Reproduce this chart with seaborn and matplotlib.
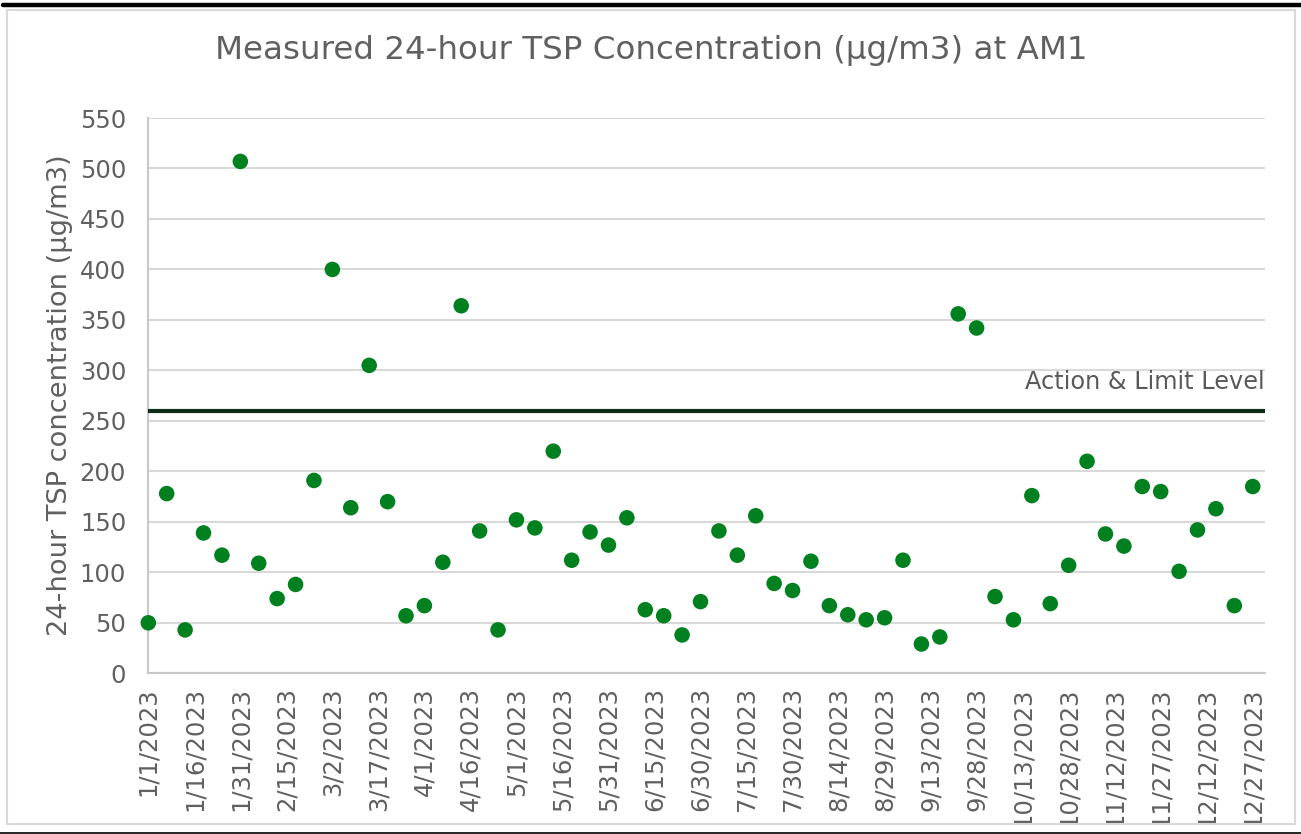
import matplotlib
matplotlib.use("Agg")
import matplotlib.pyplot as plt
import seaborn as sns
import pandas as pd
from matplotlib.patches import Rectangle
from matplotlib.lines import Line2D
from matplotlib.transforms import Bbox, TransformedBbox

# ---- data ----
dates = ["1/1/2023", "1/7/2023", "1/13/2023", "1/19/2023", "1/25/2023", "1/31/2023",
         "2/6/2023", "2/12/2023", "2/18/2023", "2/24/2023", "3/2/2023", "3/8/2023",
         "3/14/2023", "3/20/2023", "3/26/2023", "4/1/2023", "4/7/2023", "4/13/2023",
         "4/19/2023", "4/25/2023", "5/1/2023", "5/7/2023", "5/13/2023", "5/19/2023",
         "5/25/2023", "5/31/2023", "6/6/2023", "6/12/2023", "6/18/2023", "6/24/2023",
         "6/30/2023", "7/6/2023", "7/12/2023", "7/18/2023", "7/24/2023", "7/30/2023",
         "8/5/2023", "8/11/2023", "8/17/2023", "8/23/2023", "8/29/2023", "9/4/2023",
         "9/10/2023", "9/16/2023", "9/22/2023", "9/28/2023", "10/4/2023", "10/10/2023",
         "10/16/2023", "10/22/2023", "10/28/2023", "11/3/2023", "11/9/2023", "11/15/2023",
         "11/21/2023", "11/27/2023", "12/3/2023", "12/9/2023", "12/15/2023", "12/21/2023",
         "12/27/2023"]
tsp = [50, 178, 43, 139, 117, 507,
       109, 74, 88, 191, 400, 164,
       305, 170, 57, 67, 110, 364,
       141, 43, 152, 144, 220, 112,
       140, 127, 154, 63, 57, 38,
       71, 141, 117, 156, 89, 82,
       111, 67, 58, 53, 55, 112,
       29, 36, 356, 342, 76, 53,
       176, 69, 107, 210, 138, 126,
       185, 180, 101, 142, 163, 67,
       185]
tick_labels = ["1/1/2023", "1/16/2023", "1/31/2023", "2/15/2023", "3/2/2023", "3/17/2023",
               "4/1/2023", "4/16/2023", "5/1/2023", "5/16/2023", "5/31/2023", "6/15/2023",
               "6/30/2023", "7/15/2023", "7/30/2023", "8/14/2023", "8/29/2023", "9/13/2023",
               "9/28/2023", "10/13/2023", "10/28/2023", "11/12/2023", "11/27/2023",
               "12/12/2023", "12/27/2023"]
y_ticks = [0, 50, 100, 150, 200, 250, 300, 350, 400, 450, 500, 550]
limit_level = 260
limit_label = "Action & Limit Level"
title = "Measured 24-hour TSP Concentration (\u03bcg/m3) at AM1"
ylabel = "24-hour TSP concentration (\u03bcg/m3)"

# ---- style ----
sns.set_theme(style="white")
plt.rcParams['font.family'] = ['DejaVu Sans']
text_grey = "#606060"

W, H = 1301, 834
fig = plt.figure(figsize=(W / 100, H / 100), dpi=100)
fig.patch.set_facecolor("white")

left, right, top, bottom = 148.3, 1265, 118, 673.3
ax = fig.add_axes([left / W, 1 - bottom / H, (right - left) / W, (bottom - top) / H])

df = pd.DataFrame({"date": pd.to_datetime(dates, format="%m/%d/%Y"), "tsp": tsp})
sns.scatterplot(data=df, x="date", y="tsp", ax=ax, color="#00801e", s=125,
                edgecolor="none", linewidth=0, zorder=4, clip_on=False)

ax.axhline(limit_level, color="#0f2e1a", lw=3, zorder=3, solid_capstyle="butt")
ax.text(1.0, limit_level + 29, limit_label, transform=ax.get_yaxis_transform(),
        ha="right", va="center", fontsize=17.3, color="#595959")

ax.set_xlim(pd.Timestamp("2023-01-01"), pd.Timestamp("2023-12-31"))
ax.set_ylim(0, 550)
ax.set_yticks(y_ticks)
ax.set_xticks(pd.to_datetime(tick_labels, format="%m/%d/%Y"))
ax.set_xticklabels(tick_labels, rotation=90)
ax.tick_params(axis="x", labelsize=17.5, colors=text_grey, pad=10, length=0)
ax.tick_params(axis="y", labelsize=17.5, colors=text_grey, pad=16, length=0)
ax.set_xlabel("")
ax.set_ylabel("")

# x tick labels are cut off at the chart frame, as in the original
clip = TransformedBbox(Bbox([[0, 1 - 823 / H], [1, 1]]), fig.transFigure)
for lab in ax.get_xticklabels():
    lab.set_clip_on(True)
    lab.set_clip_box(clip)

ax.grid(axis="y", color="#d9d9d9", lw=1.5, zorder=0)
ax.grid(axis="x", visible=False)
for s in ["top", "right"]:
    ax.spines[s].set_visible(False)
for s in ["left", "bottom"]:
    ax.spines[s].set_color("#c8c8c8")
    ax.spines[s].set_linewidth(1.5)

fig.text(651.5 / W, 1 - 50 / H, title, ha="center", va="center",
         fontsize=23.4, color=text_grey)
fig.text(60 / W, 1 - 395 / H, ylabel, ha="center", va="center", rotation=90,
         fontsize=19.6, color=text_grey)

# chart frame and page lines
fig.add_artist(Rectangle((7 / W, 1 - 824 / H), (1295 - 7) / W, (824 - 10) / H,
                         transform=fig.transFigure, fill=False, ec="#d9d9d9", lw=1.5))
fig.add_artist(Line2D([3 / W, 1], [1 - 5 / H, 1 - 5 / H], transform=fig.transFigure,
                      color="black", lw=3.2))
fig.add_artist(Line2D([0, 1], [1 - 832.5 / H, 1 - 832.5 / H], transform=fig.transFigure,
                      color="black", lw=1.2))

fig.savefig("out.png", dpi=100, facecolor="white")
